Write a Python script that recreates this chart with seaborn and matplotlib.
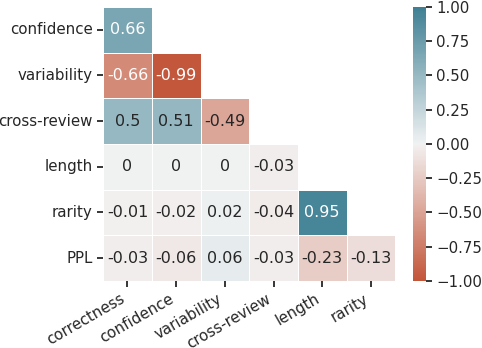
import numpy as np
import pandas as pd
import matplotlib
matplotlib.use("Agg")
import matplotlib.pyplot as plt
import seaborn as sns

rows = ["confidence", "variability", "cross-review", "length", "rarity", "PPL"]
cols = ["correctness", "confidence", "variability", "cross-review", "length", "rarity"]

r_confidence = [0.66]
r_variability = [-0.66, -0.99]
r_cross_review = [0.5, 0.51, -0.49]
r_length = [0, 0, 0, -0.03]
r_rarity = [-0.01, -0.02, 0.02, -0.04, 0.95]
r_ppl = [-0.03, -0.06, 0.06, -0.03, -0.23, -0.13]

row_values = [r_confidence, r_variability, r_cross_review, r_length, r_rarity, r_ppl]
mat = np.full((len(rows), len(cols)), np.nan)
for i, vals in enumerate(row_values):
    mat[i, :len(vals)] = vals
df = pd.DataFrame(mat, index=rows, columns=cols)
mask = np.isnan(mat)

sns.set_theme(style="ticks")
plt.rcParams["font.family"] = ["DejaVu Sans"]

fig = plt.figure(figsize=(4.82, 3.48), dpi=100)
ax = fig.add_axes([0.214, 0.193, 0.606, 0.787])
cax = fig.add_axes([0.857, 0.193, 0.026, 0.787])

cmap = sns.diverging_palette(20, 220, as_cmap=True)
sns.heatmap(df, mask=mask, cmap=cmap, vmin=-1, vmax=1, center=0,
            annot=True, fmt=".2g", linewidths=0.7, linecolor="white",
            annot_kws={"fontsize": 11.5},
            ax=ax, cbar_ax=cax, cbar_kws={"ticks": np.arange(-1, 1.01, 0.25)})

ax.tick_params(axis="both", bottom=True, left=True, length=4, width=1.3,
               color="#262626", labelsize=10.8)
ax.set_xticklabels(cols, rotation=30, ha="right")
ax.set_yticklabels(rows, rotation=0)
cax.tick_params(right=True, length=4, width=1.3, color="#262626", labelsize=10.8)
cax.set_yticklabels([f"{t:.2f}".replace("-", "\u2212") for t in np.arange(-1, 1.01, 0.25)])
for sp in cax.spines.values():
    sp.set_visible(False)

fig.savefig("out.png", dpi=100)
